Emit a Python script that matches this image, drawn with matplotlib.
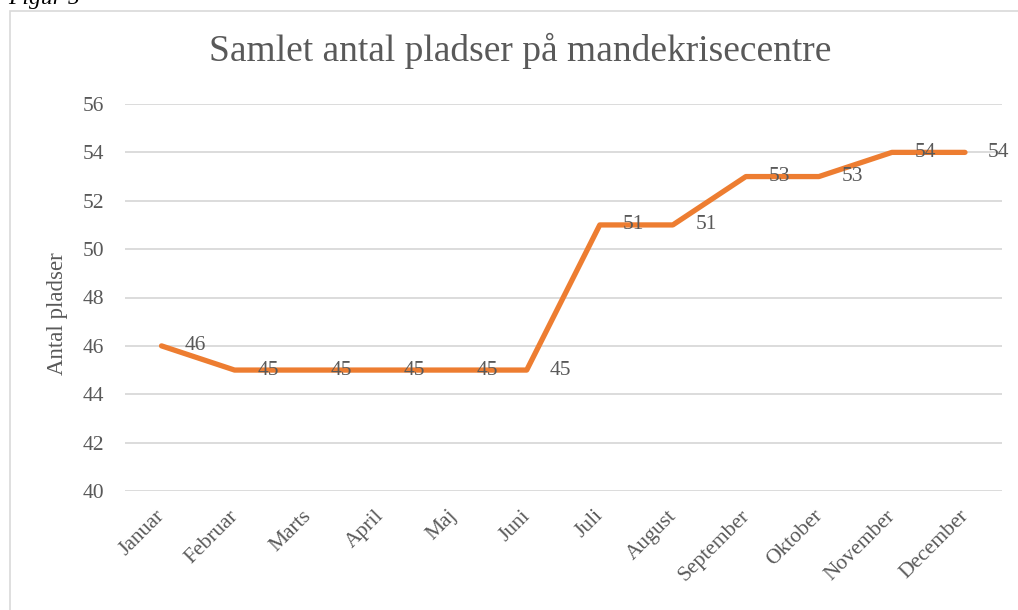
import matplotlib
matplotlib.use("Agg")
import matplotlib.pyplot as plt
import matplotlib.transforms as mtransforms
from matplotlib.patches import Rectangle

months = ["Januar", "Februar", "Marts", "April", "Maj", "Juni", "Juli",
          "August", "September", "Oktober", "November", "December"]
pladser = [46, 45, 45, 45, 45, 45, 51, 51, 53, 53, 54, 54]
yticks = [40, 42, 44, 46, 48, 50, 52, 54, 56]

plt.rcParams['font.family'] = ['Liberation Serif', 'DejaVu Serif']
TXT = '#595959'
GRID = '#D9D9D9'
ORANGE = '#ED7D31'

W, H = 1018, 610
fig = plt.figure(figsize=(W / 100, H / 100), dpi=100)

# chart border
fig.patches.append(Rectangle((10 / W, -0.1), 1.2, 1 - 11 / H + 0.1,
                             transform=fig.transFigure, fill=False,
                             edgecolor=GRID, linewidth=1.2))
fig.text(8 / W, 1 - 4 / H, "Figur 5", fontsize=17, style='italic',
         color='black', ha='left', va='baseline')

ax = fig.add_axes([125 / W, 1 - 491 / H, (1001.5 - 125) / W, (491 - 104) / H])
x = list(range(len(months)))
ax.plot(x, pladser, color=ORANGE, linewidth=3.8, solid_capstyle='round',
        solid_joinstyle='round', zorder=3)
for xi, v in zip(x, pladser):
    ax.annotate(str(v), (xi, v), xytext=(23, 0), textcoords='offset pixels',
                ha='left', va='center', fontsize=15.5, color=TXT, zorder=4,
                annotation_clip=False)

ax.set_xlim(-0.5, len(months) - 0.5)
ax.set_ylim(40, 56)
ax.set_yticks(yticks)
ax.set_yticklabels([str(t) for t in yticks])
ax.set_xticks(x)
ax.set_xticklabels(months, rotation=45, ha='right', va='top',
                   rotation_mode='anchor')
ax.tick_params(axis='both', length=0, labelsize=15.5, labelcolor=TXT)
ax.tick_params(axis='y', pad=15)
ax.tick_params(axis='x', pad=9)
shift = mtransforms.ScaledTranslation(-6 / 100, -3 / 100, fig.dpi_scale_trans)
for lbl in ax.get_xticklabels():
    lbl.set_transform(lbl.get_transform() + shift)
ax.grid(axis='y', color=GRID, linewidth=1.3)
ax.set_axisbelow(True)
for s in ax.spines.values():
    s.set_visible(False)

fig.text(57 / W, 1 - 314 / H, "Antal pladser", fontsize=16.5, color=TXT,
         rotation=90, ha='center', va='center')
fig.text(520 / W, 1 - 51 / H, "Samlet antal pladser på mandekrisecentre",
         fontsize=27, color=TXT, ha='center', va='center')

fig.savefig("out.png", dpi=100)
